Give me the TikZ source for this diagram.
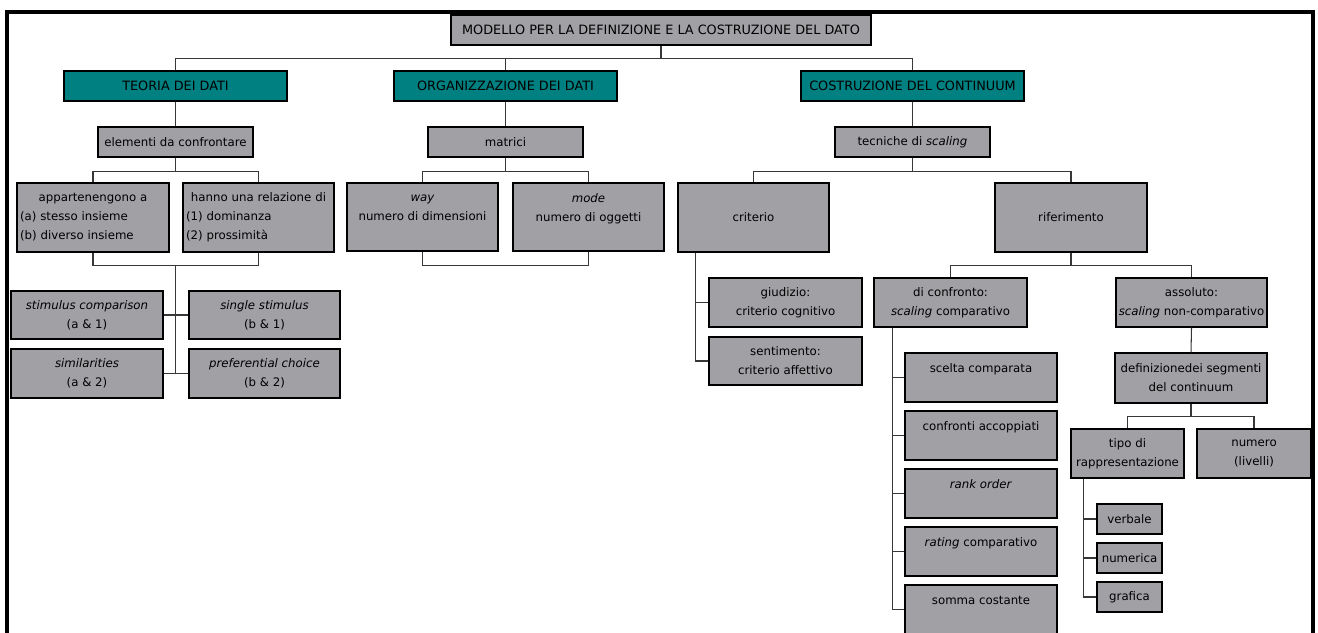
\documentclass[tikz,border=0pt]{standalone}
\usepackage{fontspec}
\setmainfont{DejaVu Sans}
\usepackage{xcolor}
\usepackage{tikz}
\usetikzlibrary{positioning}
\newlength\px
\setlength\px{0.02cm}
\definecolor{boxgray}{RGB}{161,160,165}
\definecolor{headteal}{RGB}{0,128,128}
\definecolor{wire}{RGB}{55,55,55}
\tikzset{
  gbox/.style={draw=black,fill=boxgray,line width=0.7pt,inner sep=1.5pt,align=center,
    font=\fontsize{6.7}{10.8}\selectfont},
  capbox/.style={gbox,font=\fontsize{7.3}{10.8}\selectfont},
  tbox/.style={capbox,fill=headteal},
  wh/.style 2 args={minimum width=#1\px,minimum height=#2\px},
  conn/.style={draw=wire,line width=0.6pt}
}
\begin{document}
\begin{tikzpicture}[x=\px,y=-\px]
\useasboundingbox (0,0) rectangle (1318,632);
\draw[line width=1.9pt](7,640)--(7,12)--(1313,12)--(1313,640);
% livello 0 e 1
\node[capbox,wh={420}{30}] (top) at (661,30) {MODELLO PER LA DEFINIZIONE E LA COSTRUZIONE DEL DATO};
\node[tbox,wh={223}{30}] (teoria) at (175.5,86) {TEORIA DEI DATI};
\node[tbox,wh={223}{30}] (organ) at (505.5,86) {ORGANIZZAZIONE DEI DATI};
\node[tbox,wh={223}{30}] (costr) at (912.5,86) {COSTRUZIONE DEL CONTINUUM};
\node[gbox,wh={155}{30}] (elementi) at (175.5,142) {elementi da confrontare};
\node[gbox,wh={155}{30}] (matrici) at (505.5,142) {matrici};
\node[gbox,wh={155}{30}] (tecniche) at (912.5,142) {tecniche di \textit{scaling}};
% livello 3
\node[gbox,wh={152}{69},text width=146\px,align=left] (appart) at (93,217.5)
  {\hfill appartenengono a\hfill\null\\(a) stesso insieme\\(b) diverso insieme};
\node[gbox,wh={151}{69},text width=145\px,align=left] (relaz) at (258.5,217.5)
  {\hfill hanno una relazione di\hfill\null\\(1) dominanza\\(2) prossimità};
\node[gbox,wh={151}{68}] (way) at (422.5,217) {\textit{way}\\numero di dimensioni\\~};
\node[gbox,wh={151}{68}] (mode) at (588.5,217) {\textit{mode}\\numero di oggetti\\~};
\node[gbox,wh={151}{69}] (criterio) at (753.5,217.5) {criterio};
\node[gbox,wh={152}{69}] (rifer) at (1071,217.5) {riferimento};
% teoria dei dati
\node[gbox,wh={152}{48}] (stimcomp) at (87,315) {\textit{stimulus comparison}\\(a \& 1)};
\node[gbox,wh={151}{48}] (singstim) at (264.5,315) {\textit{single stimulus}\\(b \& 1)};
\node[gbox,wh={152}{49}] (simil) at (87,373.5) {\textit{similarities}\\(a \& 2)};
\node[gbox,wh={151}{49}] (prefch) at (264.5,373.5) {\textit{preferential choice}\\(b \& 2)};
% criterio
\node[gbox,wh={153}{49}] (giudizio) at (785.5,302.5) {giudizio:\\criterio cognitivo};
\node[gbox,wh={153}{48}] (sentim) at (785.5,361) {sentimento:\\criterio affettivo};
% riferimento
\node[gbox,wh={153}{49}] (confr) at (950.5,302.5) {di confronto:\\\textit{scaling} comparativo};
\node[gbox,wh={151}{49}] (assol) at (1191.5,302.5) {assoluto:\\\textit{scaling} non-comparativo};
\node[gbox,wh={152}{49}] (scelta) at (981,377.5) {scelta comparata\\~};
\node[gbox,wh={152}{49}] (accopp) at (981,435.5) {confronti accoppiati\\~};
\node[gbox,wh={152}{49}] (rank) at (981,493.5) {\textit{rank order}\\~};
\node[gbox,wh={152}{49}] (rating) at (981,551.5) {\textit{rating} comparativo\\~};
\node[gbox,wh={152}{49}] (somma) at (981,609.5) {somma costante\\~};
\node[gbox,wh={152}{50}] (defseg) at (1191,378) {definizionedei segmenti\\del continuum};
\node[gbox,wh={113}{49}] (tipo) at (1127.5,453.5) {tipo di\\rappresentazione};
\node[gbox,wh={114}{49}] (numero) at (1254,453.5) {numero\\(livelli)};
\node[gbox,wh={65}{30}] (verbale) at (1129.5,519) {verbale};
\node[gbox,wh={65}{30}] (numerica) at (1129.5,558) {numerica};
\node[gbox,wh={65}{30}] (grafica) at (1129.5,597) {grafica};
% connettori
\draw[conn](top.south)--++(0,13)coordinate(b0);
\draw[conn](teoria.north)|-(b0)-|(costr.north);
\draw[conn](organ.north)--(organ.north|-b0);
\draw[conn](teoria.south)--(elementi.north);
\draw[conn](organ.south)--(matrici.north);
\draw[conn](costr.south)--(tecniche.north);
\draw[conn](elementi.south)--++(0,14)coordinate(b1);
\draw[conn](appart.north)|-(b1)-|(relaz.north);
\draw[conn](matrici.south)--++(0,14)coordinate(b2);
\draw[conn](way.north)|-(b2)-|(mode.north);
\draw[conn](tecniche.south)--++(0,14)coordinate(b3);
\draw[conn](criterio.north)|-(b3)-|(rifer.north);
\draw[conn](appart.south)--++(0,13)-|(relaz.south);
\draw[conn](elementi.south|-appart.south)++(0,13)coordinate(b4)--(b4|-simil.east);
\draw[conn](stimcomp.east)--(singstim.west);
\draw[conn](simil.east)--(prefch.west);
\draw[conn](way.south)--++(0,14)-|(mode.south);
\foreach \c in {giudizio,sentim}
  \draw[conn]([xshift=18\px]criterio.south west)|-(\c.west);
\draw[conn](rifer.south)--++(0,13)coordinate(b5);
\draw[conn](confr.north)|-(b5)-|(assol.north);
\foreach \c in {scelta,accopp,rank,rating,somma}
  \draw[conn]([xshift=19\px]confr.south west)|-(\c.west);
\draw[conn](assol.south)--(defseg.north);
\draw[conn](defseg.south)--++(0,13)coordinate(b6);
\draw[conn](tipo.north)|-(b6)-|(numero.north);
\foreach \c in {verbale,numerica,grafica}
  \draw[conn]([xshift=13\px]tipo.south west)|-(\c.west);
\end{tikzpicture}
\end{document}
